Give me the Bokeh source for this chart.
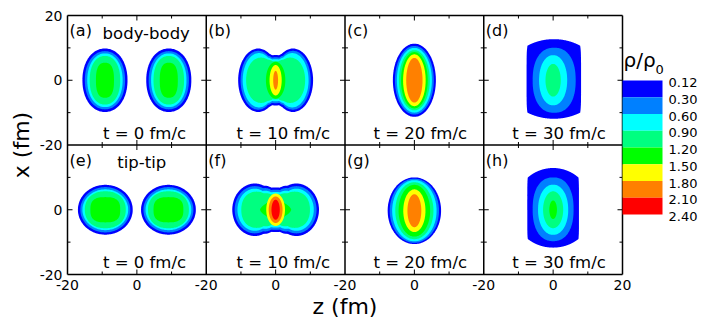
import numpy as np
from bokeh.plotting import figure
from bokeh.models import Range1d
from bokeh.embed import file_html
from bokeh.resources import INLINE
from bokeh.core.properties import value

FONT = "DejaVu Sans"

# ---------------- data ----------------
LEVELS = ["0.12", "0.30", "0.60", "0.90", "1.20", "1.50", "1.80", "2.10", "2.40"]
COLORS = ["#0000ff", "#0080ff", "#00ffff", "#00ff80", "#00ff00",
          "#ffff00", "#ff8000", "#ff0000"]

PANEL_LABELS = [["(a)", "(b)", "(c)", "(d)"], ["(e)", "(f)", "(g)", "(h)"]]
TIME_LABELS = ["t = 0 fm/c", "t = 10 fm/c", "t = 20 fm/c", "t = 30 fm/c"]
ROW_TITLES = ["body-body", "tip-tip"]
X_TICK_LABELS = ["-20", "0", "-20", "0", "-20", "0", "-20", "0", "20"]
Y_TICK_LABELS = ["-20", "0", "-20", "0", "20"]
X_AXIS_TITLE = "z (fm)"
Y_AXIS_TITLE = "x (fm)"

# contour regions:
# (level, z0, x0, half-width in z, half-height in x, shape exponent)
SHAPES_A = [  # body-body, t = 0
    (0, -9.2, 0, 6.5, 9.8, 2.1), (0, 9.2, 0, 6.5, 9.8, 2.1),
    (1, -9.2, 0, 5.8, 9.0, 2.1), (1, 9.2, 0, 5.8, 9.0, 2.1),
    (2, -9.2, 0, 5.1, 8.3, 2.1), (2, 9.2, 0, 5.1, 8.3, 2.1),
    (3, -9.2, 0, 4.4, 7.5, 2.2), (3, 9.2, 0, 4.4, 7.5, 2.2),
    (4, -9.2, 0, 2.6, 5.4, 2.6), (4, 9.2, 0, 2.6, 5.4, 2.6),
]
SHAPES_B = [  # body-body, t = 10
    (0, -5.0, 0, 5.8, 9.8, 2.0), (0, 5.0, 0, 5.8, 9.8, 2.0),
    (0, -2.5, 0, 4.0, 8.3, 2.0), (0, 2.5, 0, 4.0, 8.3, 2.0), (0, 0, 0, 6.3, 7.8, 2.0),
    (1, -5.0, 0, 5.1, 9.1, 2.0), (1, 5.0, 0, 5.1, 9.1, 2.0),
    (1, -2.5, 0, 3.6, 7.6, 2.0), (1, 2.5, 0, 3.6, 7.6, 2.0), (1, 0, 0, 5.8, 7.1, 2.0),
    (2, -4.8, 0, 4.7, 8.4, 2.0), (2, 4.8, 0, 4.7, 8.4, 2.0),
    (2, -2.4, 0, 3.4, 7.0, 2.0), (2, 2.4, 0, 3.4, 7.0, 2.0), (2, 0, 0, 5.4, 6.5, 2.0),
    (3, -4.2, 0, 4.3, 7.0, 2.1), (3, 4.2, 0, 4.3, 7.0, 2.1),
    (3, -2.1, 0, 3.2, 6.3, 2.0), (3, 2.1, 0, 3.2, 6.3, 2.0), (3, 0, 0, 5.0, 5.9, 2.0),
    (4, 0, 0, 2.8, 5.7, 2.0),
    (5, 0, 0, 1.75, 4.7, 2.0),
    (6, 0, 0, 0.7, 2.9, 2.0),
]
SHAPES_C = [  # body-body, t = 20
    (0, 0, 0, 6.2, 11.3, 2.0),
    (1, 0, 0, 5.6, 10.6, 2.0),
    (2, 0, 0, 5.05, 10.0, 2.0),
    (3, 0, 0, 4.45, 9.3, 2.0),
    (4, 0, 0, 3.85, 8.7, 2.0),
    (5, 0, 0, 3.25, 8.0, 2.0),
    (6, 0, 0, 2.35, 6.9, 2.0),
]
SHAPES_D = [  # body-body, t = 30
    (1, 0.3, 0.0, 6.2, 10.05, 2.3),
    (2, 0.0, 0.0, 4.05, 7.75, 2.1),
    (3, 0.0, 0.0, 2.2, 5.05, 2.0),
]
SHAPES_E = [  # tip-tip, t = 0
    (0, -9.1, 0, 7.9, 7.7, 2.0), (0, 9.1, 0, 7.9, 7.7, 2.0),
    (1, -9.1, 0, 7.2, 7.0, 2.0), (1, 9.1, 0, 7.2, 7.0, 2.0),
    (2, -9.1, 0, 6.6, 6.3, 2.0), (2, 9.1, 0, 6.6, 6.3, 2.0),
    (3, -9.1, 0, 5.9, 5.7, 2.2), (3, 9.1, 0, 5.9, 5.7, 2.2),
    (4, -9.1, 0, 4.3, 3.9, 2.8), (4, 9.1, 0, 4.3, 3.9, 2.8),
]
SHAPES_F = [  # tip-tip, t = 10
    (0, -6.0, 0, 6.5, 8.1, 2.0), (0, 6.0, 0, 6.5, 8.1, 2.0),
    (0, -3.0, 0, 4.5, 7.4, 2.0), (0, 3.0, 0, 4.5, 7.4, 2.0), (0, 0, 0, 7.5, 6.9, 2.0),
    (1, -6.0, 0, 5.8, 7.3, 2.0), (1, 6.0, 0, 5.8, 7.3, 2.0),
    (1, -3.0, 0, 4.2, 6.7, 2.0), (1, 3.0, 0, 4.2, 6.7, 2.0), (1, 0, 0, 7.0, 6.2, 2.0),
    (2, -6.0, 0, 5.0, 6.5, 2.0), (2, 6.0, 0, 5.0, 6.5, 2.0),
    (2, -3.0, 0, 4.0, 5.9, 2.0), (2, 3.0, 0, 4.0, 5.9, 2.0), (2, 0, 0, 6.5, 5.5, 2.0),
    (3, -5.5, 0, 4.4, 5.6, 2.2), (3, 5.5, 0, 4.4, 5.6, 2.2),
    (3, -2.75, 0, 3.8, 5.1, 2.0), (3, 2.75, 0, 3.8, 5.1, 2.0), (3, 0, 0, 6.0, 4.8, 2.0),
    (4, 0, 0, 4.5, 3.0, 1.5),
    (5, 0, 0, 2.7, 5.0, 2.0),
    (6, 0, 0, 2.0, 4.1, 2.0),
    (7, 0, 0, 1.2, 3.1, 2.0),
]
SHAPES_G = [  # tip-tip, t = 20
    (0, 0, -0.3, 7.7, 10.3, 2.0),
    (1, 0, -0.3, 7.1, 9.9, 2.0),
    (2, 0, -0.3, 6.4, 9.45, 2.0),
    (3, 0, -0.3, 5.5, 8.8, 2.0),
    (4, 0, -0.3, 4.55, 8.0, 2.0),
    (5, 0, -0.3, 3.2, 6.6, 2.0),
    (6, 0, -0.3, 2.0, 5.1, 2.0),
]
SHAPES_H = [  # tip-tip, t = 30
    (1, 0.0, 0.15, 5.9, 9.85, 2.3),
    (2, 0.0, 0.0, 4.35, 7.75, 2.1),
    (3, 0.0, 0.0, 2.9, 5.7, 2.0),
    (4, 0.0, 0.0, 1.1, 2.85, 2.0),
]
# barrel-shaped outer contours (straight sides, arched top and bottom):
# (level, z0, half-width, top height, bottom depth, arch radius in z)
BARRELS_D = [(0, 0.2, 7.85, 12.7, 11.9, 14.0)]
BARRELS_H = [(0, 0.0, 7.45, 12.9, 11.7, 11.5)]

PANELS = [[SHAPES_A, SHAPES_B, SHAPES_C, SHAPES_D],
          [SHAPES_E, SHAPES_F, SHAPES_G, SHAPES_H]]
BARRELS = [[[], [], [], BARRELS_D], [[], [], [], BARRELS_H]]

# ---------------- geometry ----------------
SPAN = 40.0            # each panel covers -20..20 fm
NCOL, NROW = 4, 2
W, H = 714, 320        # whole canvas
LEFT, TOP = 67, 15     # pixel position of the top-left corner of the panel block
PANELS_W, PANELS_H = 555, 259
XPP = SPAN * NCOL / PANELS_W       # data units per pixel (z)
YPP = SPAN * NROW / PANELS_H       # data units per pixel (x)
BOTTOM = H - TOP - PANELS_H        # pixels below the panel block
HALF = SPAN / 2


def z_off(c):
    return SPAN * c + SPAN / 2


def x_off(r):
    return SPAN * (NROW - r) - SPAN / 2


def blob(z0, x0, a, b, n, npts=160):
    t = np.linspace(0, 2 * np.pi, npts, endpoint=False)
    c, s = np.cos(t), np.sin(t)
    zz = z0 + a * np.sign(c) * np.abs(c) ** (2.0 / n)
    xx = x0 + b * np.sign(s) * np.abs(s) ** (2.0 / n)
    return zz, xx


def barrel(z0, a, bt, bb, arc, npts=200):
    u = np.sin(np.linspace(-np.pi / 2, np.pi / 2, npts))     # denser near the sides
    side = (1 - np.abs(u) ** 6) ** (1 / 6)                   # rounded corners, straight sides
    top = np.minimum(bt * np.sqrt(1 - (u * a / arc) ** 2), 1.12 * bt * side)
    bot = np.minimum(bb * np.sqrt(1 - (u * a / arc) ** 2), 1.12 * bb * side)
    zz = np.concatenate([z0 + u * a, z0 + u[::-1] * a])
    xx = np.concatenate([top, -bot[::-1]])
    return zz, xx


p = figure(width=W, height=H,
           x_range=Range1d(-LEFT * XPP, (W - LEFT) * XPP),
           y_range=Range1d(-BOTTOM * YPP, SPAN * NROW + TOP * YPP),
           x_axis_type=None, y_axis_type=None,
           output_backend="svg", toolbar_location=None, min_border=0)
p.background_fill_color = "white"
p.border_fill_color = "white"
p.outline_line_color = None
p.xgrid.visible = False
p.ygrid.visible = False

# contour fills, drawn from the lowest level up
xs, ys, cols = [], [], []
for r in range(NROW):
    for c in range(NCOL):
        items = [(s[0], "blob", s) for s in PANELS[r][c]] + \
                [(s[0], "barrel", s) for s in BARRELS[r][c]]
        for lev, kind, s in sorted(items, key=lambda it: it[0]):
            if kind == "blob":
                zz, xx = blob(*s[1:])
            else:
                zz, xx = barrel(*s[1:])
            xs.append(list(zz + z_off(c)))
            ys.append(list(xx + x_off(r)))
            cols.append(COLORS[lev])
p.patches(xs=xs, ys=ys, fill_color=cols, line_color=None)

# panel frame lines
vb = [SPAN * c for c in range(0, NCOL + 1)]
hb = [SPAN * r for r in range(0, NROW + 1)]
p.segment(x0=vb, y0=[0] * len(vb), x1=vb, y1=[SPAN * NROW] * len(vb),
          line_color="black", line_width=1.5)
p.segment(x0=[0] * len(hb), y0=hb, x1=[SPAN * NCOL] * len(hb), y1=hb,
          line_color="black", line_width=1.5)

# inward ticks on every border (both sides on shared borders)
MAJ_Z, MIN_Z = 5 * XPP, 3 * XPP
MAJ_X, MIN_X = 5 * YPP, 3 * YPP
tx0, ty0, tx1, ty1 = [], [], [], []
for xb in vb:
    for r in range(NROW):
        for off, L in ((0, MAJ_Z), (-10, MIN_Z), (10, MIN_Z)):
            y = x_off(r) + off
            tx0.append(xb - L if xb > 0 else xb)
            tx1.append(xb + L if xb < SPAN * NCOL else xb)
            ty0.append(y); ty1.append(y)
for yb in hb:
    for c in range(NCOL):
        for off, L in ((0, MAJ_X), (-10, MIN_X), (10, MIN_X)):
            x = z_off(c) + off
            tx0.append(x); tx1.append(x)
            ty0.append(yb - L if yb > 0 else yb)
            ty1.append(yb + L if yb < SPAN * NROW else yb)
p.segment(x0=tx0, y0=ty0, x1=tx1, y1=ty1, line_color="black", line_width=1)

# tick labels
xt = [SPAN / 2 * i for i in range(len(X_TICK_LABELS))]
yt = [SPAN / 2 * i for i in range(len(Y_TICK_LABELS))]
p.text(x=xt, y=[-10 * YPP] * len(xt), text=X_TICK_LABELS, text_font=value(FONT),
       text_font_size="14px", text_align="center", text_baseline="middle", text_color="black")
p.text(x=[-5 * XPP] * len(yt), y=yt, text=Y_TICK_LABELS, text_font=value(FONT),
       text_font_size="14px", text_align="right", text_baseline="middle", text_color="black")

# axis titles
p.text(x=[SPAN * NCOL / 2], y=[-32 * YPP], text=[X_AXIS_TITLE],
       text_font=value(FONT), text_font_size="22px", text_align="center",
       text_baseline="middle", text_color="black")
p.text(x=[-(LEFT - 21) * XPP], y=[SPAN * NROW / 2], text=[Y_AXIS_TITLE],
       text_font=value(FONT), text_font_size="22px", text_align="center",
       text_baseline="middle", angle=np.pi / 2, text_color="black")

# panel annotations (vertical positions in pixels from the panel edges)
lab_x, lab_y, lab_t = [], [], []
tim_x, tim_y, tim_t = [], [], []
for r in range(NROW):
    for c in range(NCOL):
        lab_x.append(z_off(c) - 19.4); lab_y.append(x_off(r) + HALF - 15.3 * YPP)
        lab_t.append(PANEL_LABELS[r][c])
        tim_x.append(z_off(c) + (2.2 if c < 2 else 1.7))
        tim_y.append(x_off(r) - HALF + 12.0 * YPP)
        tim_t.append(TIME_LABELS[c])
p.text(x=lab_x, y=lab_y, text=lab_t, text_font=value(FONT), text_font_size="16px",
       text_align="left", text_baseline="middle", text_color="black")
p.text(x=tim_x, y=tim_y, text=tim_t, text_font=value(FONT), text_font_size="16.5px",
       text_align="center", text_baseline="middle", text_color="black")
p.text(x=[z_off(0) + 2.7, z_off(0) + 1.4],
       y=[x_off(0) + HALF - 18.0 * YPP, x_off(1) + HALF - 17.5 * YPP],
       text=ROW_TITLES, text_font=value(FONT), text_font_size="16.5px",
       text_align="center", text_baseline="middle", text_color="black")

# ---------------- colour bar (band index on its own vertical range) ----------------
BAND_PX = 16.75      # height of one band
BAR_TOP = 80         # bar top, pixels from the canvas top
p.extra_y_ranges = {"cb": Range1d(start=(H - BAR_TOP) / BAND_PX, end=-BAR_TOP / BAND_PX)}
X0 = SPAN * NCOL
nb = len(COLORS)
p.quad(left=[X0] * nb, right=[X0 + 40 * XPP] * nb,
       top=list(range(nb)), bottom=[i + 1 for i in range(nb)],
       fill_color=COLORS, line_color=None, y_range_name="cb")
p.text(x=[X0 + 46 * XPP] * len(LEVELS), y=[i + 0.12 for i in range(len(LEVELS))],
       text=LEVELS, text_font=value(FONT), text_font_size="13px", text_align="left",
       text_baseline="middle", text_color="black", y_range_name="cb")
p.text(x=[X0 + 1 * XPP], y=[-1.22], text=["ρ/ρ"], text_font=value(FONT),
       text_font_size="20px", text_align="left", text_baseline="middle",
       text_color="black", y_range_name="cb")
p.text(x=[X0 + 33 * XPP], y=[-0.63], text=["0"], text_font=value(FONT),
       text_font_size="13px", text_align="left", text_baseline="middle",
       text_color="black", y_range_name="cb")

open("out.html", "w").write(file_html(p, INLINE))
